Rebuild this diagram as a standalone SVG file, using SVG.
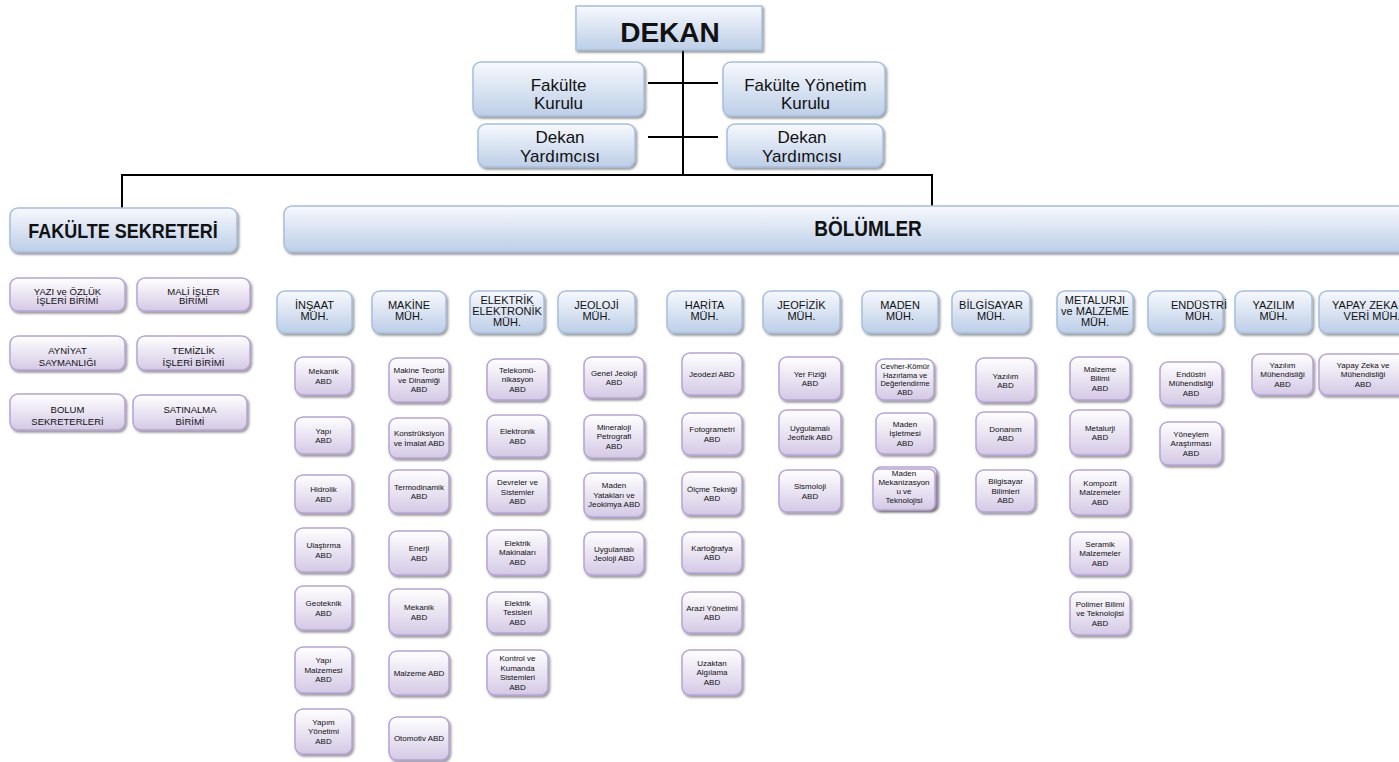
<svg xmlns="http://www.w3.org/2000/svg" width="1399" height="762" viewBox="0 0 1399 762">
<style>
.b{fill:url(#gb);stroke:#a6bfe0;stroke-width:1.5;filter:url(#sh)}
.p{fill:url(#gp);stroke:#b8a2d8;stroke-width:1.5;filter:url(#sh)}
text{font-family:"Liberation Sans",Arial,sans-serif;text-anchor:middle;fill:#111}
.t8{font-size:8px}
.t75{font-size:7.5px}
.t10{font-size:9.5px}
.t11{font-size:11px}
.t17{font-size:17px}
.bd{font-weight:bold}
.ln{stroke:#000;stroke-width:2;fill:none}
</style>
<defs>
<linearGradient id="gb" x1="0" y1="0" x2="0" y2="1"><stop offset="0" stop-color="#f7f9fd"/><stop offset="1" stop-color="#bccee7"/></linearGradient>
<linearGradient id="gp" x1="0" y1="0" x2="0" y2="1"><stop offset="0" stop-color="#ffffff"/><stop offset="1" stop-color="#d4c9e5"/></linearGradient>
<filter id="sh" x="-10%" y="-10%" width="130%" height="140%"><feDropShadow dx="1.5" dy="2" stdDeviation="1" flood-color="#444" flood-opacity="0.55"/></filter>
</defs>
<rect width="1399" height="762" fill="#fff"/>

<g id="connectors">
<line class="ln" x1="683" y1="50" x2="683" y2="176"/>
<line class="ln" x1="648" y1="83" x2="718" y2="83"/>
<line class="ln" x1="648" y1="137" x2="718" y2="137"/>
<line class="ln" x1="121" y1="175" x2="933" y2="175"/>
<line class="ln" x1="122" y1="174" x2="122" y2="208"/>
<line class="ln" x1="932" y1="174" x2="932" y2="206"/>
</g>

<g id="dekan"><rect class="b" x="576" y="6" width="186" height="44"/><text x="670" y="42" class="bd" style="font-size:28px">DEKAN</text></g>
<g id="fakulte-kurulu"><rect class="b" x="473" y="62" width="171" height="54" rx="8"/><text x="558.5" y="91" class="t17">Fakülte<tspan x="558.5" dy="18">Kurulu</tspan></text></g>
<g id="fakulte-yonetim-kurulu"><rect class="b" x="723" y="62" width="162" height="54" rx="8"/><text x="805.5" y="91" class="t17">Fakülte Yönetim<tspan x="805.5" dy="18">Kurulu</tspan></text></g>
<g id="dekan-yrd-1"><rect class="b" x="478" y="124" width="157" height="43" rx="8"/><text x="560" y="143" class="t17">Dekan<tspan x="560" dy="19">Yardımcısı</tspan></text></g>
<g id="dekan-yrd-2"><rect class="b" x="727" y="124" width="156" height="43" rx="8"/><text x="802" y="143" class="t17">Dekan<tspan x="802" dy="19">Yardımcısı</tspan></text></g>

<g id="fakulte-sekreteri"><rect class="b" x="10" y="208" width="227" height="44" rx="8"/><text class="bd" transform="translate(123,238) scale(1,1.15)" style="font-size:18px">FAKÜLTE SEKRETERİ</text></g>
<g id="bolumler"><rect class="b" x="284" y="206" width="1130" height="46" rx="8"/><text class="bd" transform="translate(868,236) scale(1,1.15)" style="font-size:19px">BÖLÜMLER</text></g>

<g id="sek-yazi"><rect class="p" x="10" y="278" width="115" height="33" rx="8"/><text x="67.5" y="295" class="t10">YAZI ve ÖZLÜK<tspan x="67.5" dy="8.5">İŞLERİ BİRİMİ</tspan></text></g>
<g id="sek-mali"><rect class="p" x="137" y="278" width="113" height="33" rx="8"/><text x="193.5" y="295" class="t10">MALİ İŞLER<tspan x="193.5" dy="8.5">BİRİMİ</tspan></text></g>
<g id="sek-ayniyat"><rect class="p" x="10" y="336" width="115" height="34" rx="8"/><text x="67.5" y="353.5" class="t10">AYNİYAT<tspan x="67.5" dy="12.5">SAYMANLIĞI</tspan></text></g>
<g id="sek-temizlik"><rect class="p" x="137" y="336" width="113" height="34" rx="8"/><text x="193.5" y="353.5" class="t10">TEMİZLİK<tspan x="193.5" dy="12.5">İŞLERİ BİRİMİ</tspan></text></g>
<g id="sek-bolum"><rect class="p" x="10" y="394" width="115" height="36" rx="8"/><text x="67.5" y="412.5" class="t10">BOLUM<tspan x="67.5" dy="12.5">SEKRETERLERİ</tspan></text></g>
<g id="sek-satinalma"><rect class="p" x="133" y="395" width="114" height="35" rx="8"/><text x="190" y="412.5" class="t10">SATINALMA<tspan x="190" dy="12.5">BİRİMİ</tspan></text></g>

<g id="h-insaat"><rect class="b" x="277" y="291" width="75" height="42" rx="8"/><text x="314.5" y="309" class="t11">İNŞAAT<tspan x="314.5" dy="11">MÜH.</tspan></text></g>
<g id="h-makine"><rect class="b" x="372" y="291" width="74" height="42" rx="8"/><text x="409" y="309" class="t11">MAKİNE<tspan x="409" dy="11">MÜH.</tspan></text></g>
<g id="h-elektrik"><rect class="b" x="470" y="291" width="74" height="42" rx="8"/><text x="507" y="304" class="t11">ELEKTRİK<tspan x="507" dy="11">ELEKTRONİK</tspan><tspan x="507" dy="11">MÜH.</tspan></text></g>
<g id="h-jeoloji"><rect class="b" x="558" y="291" width="77" height="42" rx="8"/><text x="596.5" y="309" class="t11">JEOLOJİ<tspan x="596.5" dy="11">MÜH.</tspan></text></g>
<g id="h-harita"><rect class="b" x="667" y="291" width="75" height="42" rx="8"/><text x="704.5" y="309" class="t11">HARİTA<tspan x="704.5" dy="11">MÜH.</tspan></text></g>
<g id="h-jeofizik"><rect class="b" x="763" y="291" width="77" height="42" rx="8"/><text x="801.5" y="309" class="t11">JEOFİZİK<tspan x="801.5" dy="11">MÜH.</tspan></text></g>
<g id="h-maden"><rect class="b" x="862" y="291" width="76" height="42" rx="8"/><text x="900" y="309" class="t11">MADEN<tspan x="900" dy="11">MÜH.</tspan></text></g>
<g id="h-bilgisayar"><rect class="b" x="952" y="291" width="78" height="42" rx="8"/><text x="991" y="309" class="t11">BİLGİSAYAR<tspan x="991" dy="11">MÜH.</tspan></text></g>
<g id="h-metalurji"><rect class="b" x="1057" y="291" width="76" height="42" rx="8"/><text x="1095" y="304" class="t11">METALURJI<tspan x="1095" dy="11">ve MALZEME</tspan><tspan x="1095" dy="11">MÜH.</tspan></text></g>
<g id="h-endustri"><rect class="b" x="1148" y="291" width="75" height="42" rx="8"/><text x="1199" y="309" class="t11">ENDÜSTRİ<tspan x="1199" dy="11">MÜH.</tspan></text></g>
<g id="h-yazilim"><rect class="b" x="1235" y="291" width="77" height="42" rx="8"/><text x="1273.5" y="309" class="t11">YAZILIM<tspan x="1273.5" dy="11">MÜH.</tspan></text></g>
<g id="h-yapay-zeka"><rect class="b" x="1319" y="291" width="110" height="42" rx="8"/><text x="1372" y="309" class="t11">YAPAY ZEKA ve<tspan x="1372" dy="11">VERİ MÜH.</tspan></text></g>

<g id="insaat-mekanik"><rect class="p" x="295" y="357" width="57" height="38" rx="8"/><text x="323.5" y="374" class="t8">Mekanik<tspan x="323.5" dy="9.5">ABD</tspan></text></g>
<g id="insaat-yapi"><rect class="p" x="295" y="417" width="57" height="37" rx="8"/><text x="323.5" y="433.5" class="t8">Yapı<tspan x="323.5" dy="9.5">ABD</tspan></text></g>
<g id="insaat-hidrolik"><rect class="p" x="295" y="475" width="57" height="38" rx="8"/><text x="323.5" y="492" class="t8">Hidrolik<tspan x="323.5" dy="9.5">ABD</tspan></text></g>
<g id="insaat-ulastirma"><rect class="p" x="295" y="528" width="57" height="44" rx="8"/><text x="323.5" y="548" class="t8">Ulaştırma<tspan x="323.5" dy="9.5">ABD</tspan></text></g>
<g id="insaat-geoteknik"><rect class="p" x="295" y="586" width="57" height="44" rx="8"/><text x="323.5" y="606" class="t8">Geoteknik<tspan x="323.5" dy="9.5">ABD</tspan></text></g>
<g id="insaat-yapi-malzemesi"><rect class="p" x="295" y="647" width="57" height="46" rx="8"/><text x="323.5" y="663.3" class="t8">Yapı<tspan x="323.5" dy="9.5">Malzemesi</tspan><tspan x="323.5" dy="9.5">ABD</tspan></text></g>
<g id="insaat-yapim-yonetimi"><rect class="p" x="295" y="709" width="57" height="45" rx="8"/><text x="323.5" y="724.8" class="t8">Yapım<tspan x="323.5" dy="9.5">Yönetimi</tspan><tspan x="323.5" dy="9.5">ABD</tspan></text></g>

<g id="makine-teorisi"><rect class="p" x="389" y="358" width="60" height="44" rx="8"/><text x="419" y="373.3" class="t8">Makine Teorisi<tspan x="419" dy="9.5">ve Dinamiği</tspan><tspan x="419" dy="9.5">ABD</tspan></text></g>
<g id="makine-konstruksiyon"><rect class="p" x="389" y="418" width="60" height="40" rx="8"/><text x="419" y="436" class="t8">Konstrüksiyon<tspan x="419" dy="9.5">ve İmalat ABD</tspan></text></g>
<g id="makine-termodinamik"><rect class="p" x="389" y="470" width="60" height="43" rx="8"/><text x="419" y="489.5" class="t8">Termodinamik<tspan x="419" dy="9.5">ABD</tspan></text></g>
<g id="makine-enerji"><rect class="p" x="389" y="531" width="60" height="44" rx="8"/><text x="419" y="551" class="t8">Enerji<tspan x="419" dy="9.5">ABD</tspan></text></g>
<g id="makine-mekanik"><rect class="p" x="389" y="589" width="60" height="46" rx="8"/><text x="419" y="610" class="t8">Mekanik<tspan x="419" dy="9.5">ABD</tspan></text></g>
<g id="makine-malzeme"><rect class="p" x="389" y="651" width="60" height="44" rx="8"/><text x="419" y="675.8" class="t8">Malzeme ABD</text></g>
<g id="makine-otomotiv"><rect class="p" x="389" y="717" width="60" height="43" rx="8"/><text x="419" y="741.3" class="t8">Otomotiv ABD</text></g>

<g id="ee-telekom"><rect class="p" x="487" y="359" width="61" height="41" rx="8"/><text x="517.5" y="372.8" class="t8">Telekomü-<tspan x="517.5" dy="9.5">nikasyon</tspan><tspan x="517.5" dy="9.5">ABD</tspan></text></g>
<g id="ee-elektronik"><rect class="p" x="487" y="415" width="61" height="42" rx="8"/><text x="517.5" y="434" class="t8">Elektronik<tspan x="517.5" dy="9.5">ABD</tspan></text></g>
<g id="ee-devreler"><rect class="p" x="487" y="471" width="61" height="42" rx="8"/><text x="517.5" y="485.3" class="t8">Devreler ve<tspan x="517.5" dy="9.5">Sistemler</tspan><tspan x="517.5" dy="9.5">ABD</tspan></text></g>
<g id="ee-makinalar"><rect class="p" x="487" y="530" width="61" height="45" rx="8"/><text x="517.5" y="545.8" class="t8">Elektrik<tspan x="517.5" dy="9.5">Makinaları</tspan><tspan x="517.5" dy="9.5">ABD</tspan></text></g>
<g id="ee-tesisler"><rect class="p" x="487" y="592" width="61" height="41" rx="8"/><text x="517.5" y="605.8" class="t8">Elektrik<tspan x="517.5" dy="9.5">Tesisleri</tspan><tspan x="517.5" dy="9.5">ABD</tspan></text></g>
<g id="ee-kontrol"><rect class="p" x="487" y="650" width="61" height="45" rx="8"/><text x="517.5" y="661" class="t8">Kontrol ve<tspan x="517.5" dy="9.5">Kumanda</tspan><tspan x="517.5" dy="9.5">Sistemleri</tspan><tspan x="517.5" dy="9.5">ABD</tspan></text></g>

<g id="jeo-genel"><rect class="p" x="584" y="357" width="60" height="41" rx="8"/><text x="614" y="375.5" class="t8">Genel Jeoloji<tspan x="614" dy="9.5">ABD</tspan></text></g>
<g id="jeo-mineraloji"><rect class="p" x="584" y="415" width="60" height="43" rx="8"/><text x="614" y="429.8" class="t8">Mineraloji<tspan x="614" dy="9.5">Petrografi</tspan><tspan x="614" dy="9.5">ABD</tspan></text></g>
<g id="jeo-maden-yataklari"><rect class="p" x="584" y="473" width="60" height="44" rx="8"/><text x="614" y="488.3" class="t8">Maden<tspan x="614" dy="9.5">Yatakları ve</tspan><tspan x="614" dy="9.5">Jeokimya ABD</tspan></text></g>
<g id="jeo-uygulamali"><rect class="p" x="584" y="532" width="60" height="43" rx="8"/><text x="614" y="551.5" class="t8">Uygulamalı<tspan x="614" dy="9.5">Jeoloji ABD</tspan></text></g>

<g id="har-jeodezi"><rect class="p" x="682" y="353" width="60" height="42" rx="8"/><text x="712" y="376.8" class="t8">Jeodezi ABD</text></g>
<g id="har-fotogrametri"><rect class="p" x="682" y="413" width="60" height="42" rx="8"/><text x="712" y="432" class="t8">Fotogrametri<tspan x="712" dy="9.5">ABD</tspan></text></g>
<g id="har-olcme"><rect class="p" x="682" y="472" width="60" height="43" rx="8"/><text x="712" y="491.5" class="t8">Ölçme Tekniği<tspan x="712" dy="9.5">ABD</tspan></text></g>
<g id="har-kartografya"><rect class="p" x="682" y="532" width="60" height="41" rx="8"/><text x="712" y="550.5" class="t8">Kartoğrafya<tspan x="712" dy="9.5">ABD</tspan></text></g>
<g id="har-arazi"><rect class="p" x="682" y="592" width="60" height="41" rx="8"/><text x="712" y="610.5" class="t8">Arazi Yönetimi<tspan x="712" dy="9.5">ABD</tspan></text></g>
<g id="har-uzaktan"><rect class="p" x="682" y="650" width="60" height="45" rx="8"/><text x="712" y="665.8" class="t8">Uzaktan<tspan x="712" dy="9.5">Algılama</tspan><tspan x="712" dy="9.5">ABD</tspan></text></g>

<g id="jf-yer-fizigi"><rect class="p" x="779" y="357" width="62" height="43" rx="8"/><text x="810" y="376.5" class="t8">Yer Fiziği<tspan x="810" dy="9.5">ABD</tspan></text></g>
<g id="jf-uygulamali"><rect class="p" x="779" y="410" width="62" height="45" rx="8"/><text x="810" y="430.5" class="t8">Uygulamalı<tspan x="810" dy="9.5">Jeofizik ABD</tspan></text></g>
<g id="jf-sismoloji"><rect class="p" x="779" y="470" width="62" height="42" rx="8"/><text x="810" y="489" class="t8">Sismoloji<tspan x="810" dy="9.5">ABD</tspan></text></g>

<g id="mad-cevher"><rect class="p" x="876" y="359" width="58" height="41" rx="8"/><text x="905" y="369.4" class="t75">Cevher-Kömür<tspan x="905" dy="8.5">Hazırlama ve</tspan><tspan x="905" dy="8.5">Değerlendirme</tspan><tspan x="905" dy="8.5">ABD</tspan></text></g>
<g id="mad-isletme"><rect class="p" x="876" y="413" width="58" height="41" rx="8"/><text x="905" y="426.8" class="t8">Maden<tspan x="905" dy="9.5">İşletmesi</tspan><tspan x="905" dy="9.5">ABD</tspan></text></g>
<g id="mad-mekanizasyon"><rect class="p" x="875" y="467" width="62" height="42" rx="6"/><rect class="p" x="873" y="469" width="62" height="41" rx="6"/><text x="904" y="475.5" class="t8">Maden<tspan x="904" dy="9.3">Mekanizasyon</tspan><tspan x="904" dy="9.3">u ve</tspan><tspan x="904" dy="9.3">Teknolojisi</tspan></text></g>

<g id="bil-yazilim"><rect class="p" x="976" y="358" width="59" height="44" rx="8"/><text x="1005.5" y="378.5" class="t8">Yazılım<tspan x="1005.5" dy="9.5">ABD</tspan></text></g>
<g id="bil-donanim"><rect class="p" x="976" y="412" width="59" height="43" rx="8"/><text x="1005.5" y="431.5" class="t8">Donanım<tspan x="1005.5" dy="9.5">ABD</tspan></text></g>
<g id="bil-bilimleri"><rect class="p" x="976" y="470" width="59" height="42" rx="8"/><text x="1005.5" y="484.3" class="t8">Bilgisayar<tspan x="1005.5" dy="9.5">Bilimleri</tspan><tspan x="1005.5" dy="9.5">ABD</tspan></text></g>

<g id="met-malzeme-bilimi"><rect class="p" x="1070" y="357" width="60" height="43" rx="8"/><text x="1100" y="371.8" class="t8">Malzeme<tspan x="1100" dy="9.5">Bilimi</tspan><tspan x="1100" dy="9.5">ABD</tspan></text></g>
<g id="met-metalurji"><rect class="p" x="1070" y="410" width="60" height="45" rx="8"/><text x="1100" y="430.5" class="t8">Metalurji<tspan x="1100" dy="9.5">ABD</tspan></text></g>
<g id="met-kompozit"><rect class="p" x="1070" y="470" width="60" height="45" rx="8"/><text x="1100" y="485.8" class="t8">Kompozit<tspan x="1100" dy="9.5">Malzemeler</tspan><tspan x="1100" dy="9.5">ABD</tspan></text></g>
<g id="met-seramik"><rect class="p" x="1070" y="532" width="60" height="43" rx="8"/><text x="1100" y="546.8" class="t8">Seramik<tspan x="1100" dy="9.5">Malzemeler</tspan><tspan x="1100" dy="9.5">ABD</tspan></text></g>
<g id="met-polimer"><rect class="p" x="1070" y="592" width="60" height="43" rx="8"/><text x="1100" y="606.8" class="t8">Polimer Bilimi<tspan x="1100" dy="9.5">ve Teknolojisi</tspan><tspan x="1100" dy="9.5">ABD</tspan></text></g>

<g id="end-muhendislik"><rect class="p" x="1160" y="362" width="62" height="43" rx="8"/><text x="1191" y="376.8" class="t8">Endüstri<tspan x="1191" dy="9.5">Mühendisliği</tspan><tspan x="1191" dy="9.5">ABD</tspan></text></g>
<g id="end-yoneylem"><rect class="p" x="1160" y="422" width="62" height="43" rx="8"/><text x="1191" y="436.8" class="t8">Yöneylem<tspan x="1191" dy="9.5">Araştırması</tspan><tspan x="1191" dy="9.5">ABD</tspan></text></g>

<g id="yaz-muhendislik"><rect class="p" x="1252" y="354" width="61" height="41" rx="8"/><text x="1282.5" y="367.8" class="t8">Yazılım<tspan x="1282.5" dy="9.5">Mühendisliği</tspan><tspan x="1282.5" dy="9.5">ABD</tspan></text></g>
<g id="yz-muhendislik"><rect class="p" x="1319" y="354" width="88" height="41" rx="8"/><text x="1363" y="367.8" class="t8">Yapay Zeka ve<tspan x="1363" dy="9.5">Mühendisliği</tspan><tspan x="1363" dy="9.5">ABD</tspan></text></g>
</svg>
